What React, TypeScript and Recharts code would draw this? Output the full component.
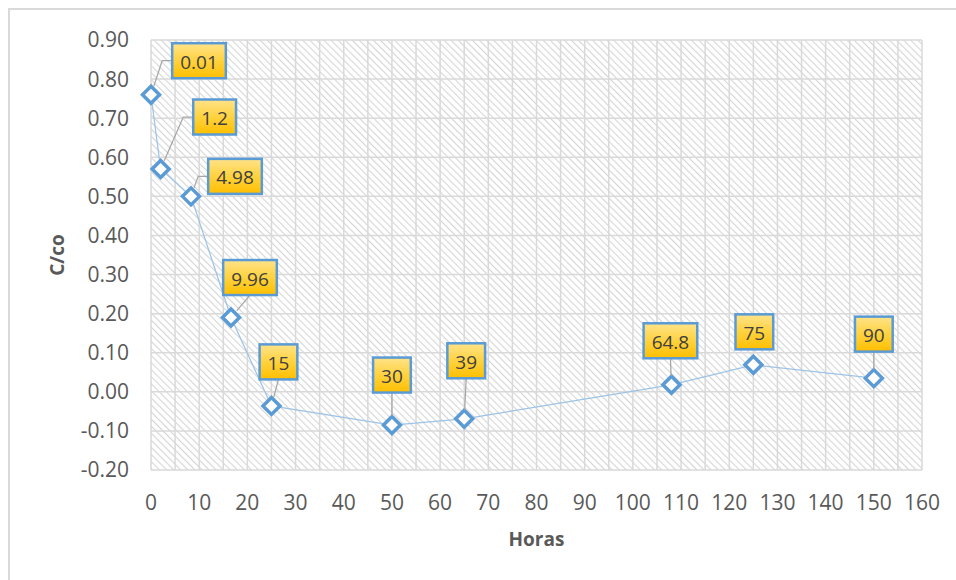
import { CartesianGrid, LabelList, Line, LineChart, XAxis, YAxis } from "recharts";

// Horas de muestreo y concentración relativa C/co
const horas = [0, 2, 8.3, 16.6, 25, 50, 65, 108, 125, 150];
const cco = [0.76, 0.57, 0.5, 0.19, -0.036, -0.085, -0.069, 0.018, 0.069, 0.035];
const etiquetas = ["0.01", "1.2", "4.98", "9.96", "15", "30", "39", "64.8", "75", "90"];

const xTicks = [0, 10, 20, 30, 40, 50, 60, 70, 80, 90, 100, 110, 120, 130, 140, 150, 160];
const yTicks = [-0.2, -0.1, 0, 0.1, 0.2, 0.3, 0.4, 0.5, 0.6, 0.7, 0.8, 0.9];

// desplazamiento (px) del centro de cada cuadro respecto a su punto
const calloutOffsets: [number, number][] = [
  [48, -34],
  [54, -52],
  [44, -20],
  [19, -40],
  [7, -44],
  [0, -50],
  [2, -58],
  [-1, -44],
  [1, -33],
  [0, -44],
];

const data = horas.map((h, i) => ({ horas: h, cco: cco[i], etiqueta: etiquetas[i] }));

const FONT = "'Open Sans', 'Liberation Sans', sans-serif";
const TICK_COLOR = "#595959";
const BLUE = "#5b9bd5";

function textWidth(s: string, size: number) {
  let w = 0;
  for (const ch of s) w += ch === "." ? 0.266 : 0.572;
  return w * size;
}

function Diamond(props: any) {
  const { cx, cy, index } = props;
  if (cx == null || cy == null) return null;
  const r = 8.5;
  return (
    <path
      key={`d-${index}`}
      d={`M${cx},${cy - r} L${cx + r},${cy} L${cx},${cy + r} L${cx - r},${cy} Z`}
      fill="#fff"
      stroke={BLUE}
      strokeWidth={3.5}
    />
  );
}

function Callout(props: any) {
  const { index, value } = props;
  const vb = props.viewBox || {};
  const px = typeof props.x === "number" ? props.x : vb.x;
  const py = typeof props.y === "number" ? props.y : vb.y;
  if (px == null || py == null) return null;
  const [dx, dy] = calloutOffsets[index] || [0, -44];
  const text = String(value);
  const w = textWidth(text, 19) + 16;
  const h = 35;
  const cx = px + dx;
  const cy = py + dy;
  const left = cx - w / 2;
  const top = cy - h / 2;
  const bottom = cy + h / 2;

  let leader = null;
  if (left > px + 10) {
    const ex = left - 10;
    const ey = cy;
    const len = Math.hypot(ex - px, ey - py);
    const sx = px + ((ex - px) / len) * 9;
    const sy = py + ((ey - py) / len) * 9;
    leader = (
      <polyline
        points={`${sx},${sy} ${ex},${ey} ${left},${cy}`}
        fill="none"
        stroke="#a6a6a6"
        strokeWidth={1.25}
      />
    );
  } else if (py - 9 - bottom > 10) {
    const len = Math.hypot(cx - px, bottom - py);
    const sx = px + ((cx - px) / len) * 9;
    const sy = py + ((bottom - py) / len) * 9;
    leader = <line x1={sx} y1={sy} x2={cx} y2={bottom} stroke="#a6a6a6" strokeWidth={1.25} />;
  }

  return (
    <g key={`c-${index}`}>
      {leader}
      <rect x={left} y={top} width={w} height={h} fill="url(#calloutFill)" stroke={BLUE} strokeWidth={2.5} />
      <text
        x={cx}
        y={cy + 1}
        textAnchor="middle"
        dominantBaseline="central"
        fontSize={19}
        fontFamily={FONT}
        fill="#404040"
      >
        {text}
      </text>
    </g>
  );
}

export default function App() {
  return (
    <div style={{ position: "fixed", left: 0, top: 0, width: 956, height: 580, overflow: "hidden", background: "#fff" }}>
      <div
        style={{
          position: "absolute",
          left: 8,
          top: 8,
          width: 946,
          height: 570,
          border: "2px solid #d9d9d9",
          background: "#fff",
        }}
      >
        <LineChart
          width={946}
          height={570}
          data={data}
          margin={{ top: 30, right: 34, left: 61, bottom: 50 }}
          style={{ fontFamily: FONT }}
        >
          <defs>
            <pattern id="hatch" width={5} height={5} patternUnits="userSpaceOnUse" patternTransform="rotate(-45)">
              <rect width={5} height={5} fill="#fff" />
              <line x1={0} y1={0} x2={0} y2={5} stroke="#d6d6d6" strokeWidth={2.2} />
            </pattern>
            <linearGradient id="calloutFill" x1="0" y1="0" x2="0" y2="1">
              <stop offset="0%" stopColor="#ffe38a" />
              <stop offset="50%" stopColor="#ffd23f" />
              <stop offset="100%" stopColor="#ffbf00" />
            </linearGradient>
          </defs>
          <CartesianGrid
            fill="url(#hatch)"
            stroke="#d9d9d9"
            strokeWidth={1.5}
            verticalCoordinatesGenerator={({ offset }: any) => {
              const pts: number[] = [];
              for (let v = 0; v <= 160; v += 5) pts.push(offset.left + (v / 160) * offset.width);
              return pts;
            }}
          />
          <XAxis
            type="number"
            dataKey="horas"
            domain={[0, 160]}
            ticks={xTicks}
            interval={0}
            height={60}
            axisLine={false}
            tickLine={false}
            tickSize={0}
            tickMargin={25}
            tick={{ fill: TICK_COLOR, fontSize: 21, fontFamily: FONT }}
            label={{
              content: ({ viewBox }: any) => (
                <text
                  x={viewBox.x + viewBox.width / 2}
                  y={viewBox.y + 69}
                  textAnchor="middle"
                  dominantBaseline="central"
                  fontSize={19}
                  fontWeight="bold"
                  fontFamily={FONT}
                  fill={TICK_COLOR}
                >
                  Horas
                </text>
              ),
            }}
          />
          <YAxis
            type="number"
            domain={[-0.2, 0.9]}
            ticks={yTicks}
            interval={0}
            width={80}
            axisLine={false}
            tickLine={false}
            tickSize={0}
            tickMargin={22}
            tickFormatter={(v: number) => v.toFixed(2)}
            tick={{ fill: TICK_COLOR, fontSize: 21, fontFamily: FONT }}
            label={{
              content: ({ viewBox }: any) => {
                const x = viewBox.x - 14;
                const y = viewBox.y + viewBox.height / 2;
                return (
                  <text
                    x={x}
                    y={y}
                    transform={`rotate(-90, ${x}, ${y})`}
                    textAnchor="middle"
                    dominantBaseline="central"
                    fontSize={19}
                    fontWeight="bold"
                    fontFamily={FONT}
                    fill={TICK_COLOR}
                  >
                    C/co
                  </text>
                );
              },
            }}
          />
          <Line
            type="linear"
            dataKey="cco"
            stroke="#9dc3e6"
            strokeWidth={1.25}
            dot={Diamond}
            activeDot={false}
            isAnimationActive={false}
          >
            <LabelList dataKey="etiqueta" content={Callout} />
          </Line>
        </LineChart>
      </div>
    </div>
  );
}
